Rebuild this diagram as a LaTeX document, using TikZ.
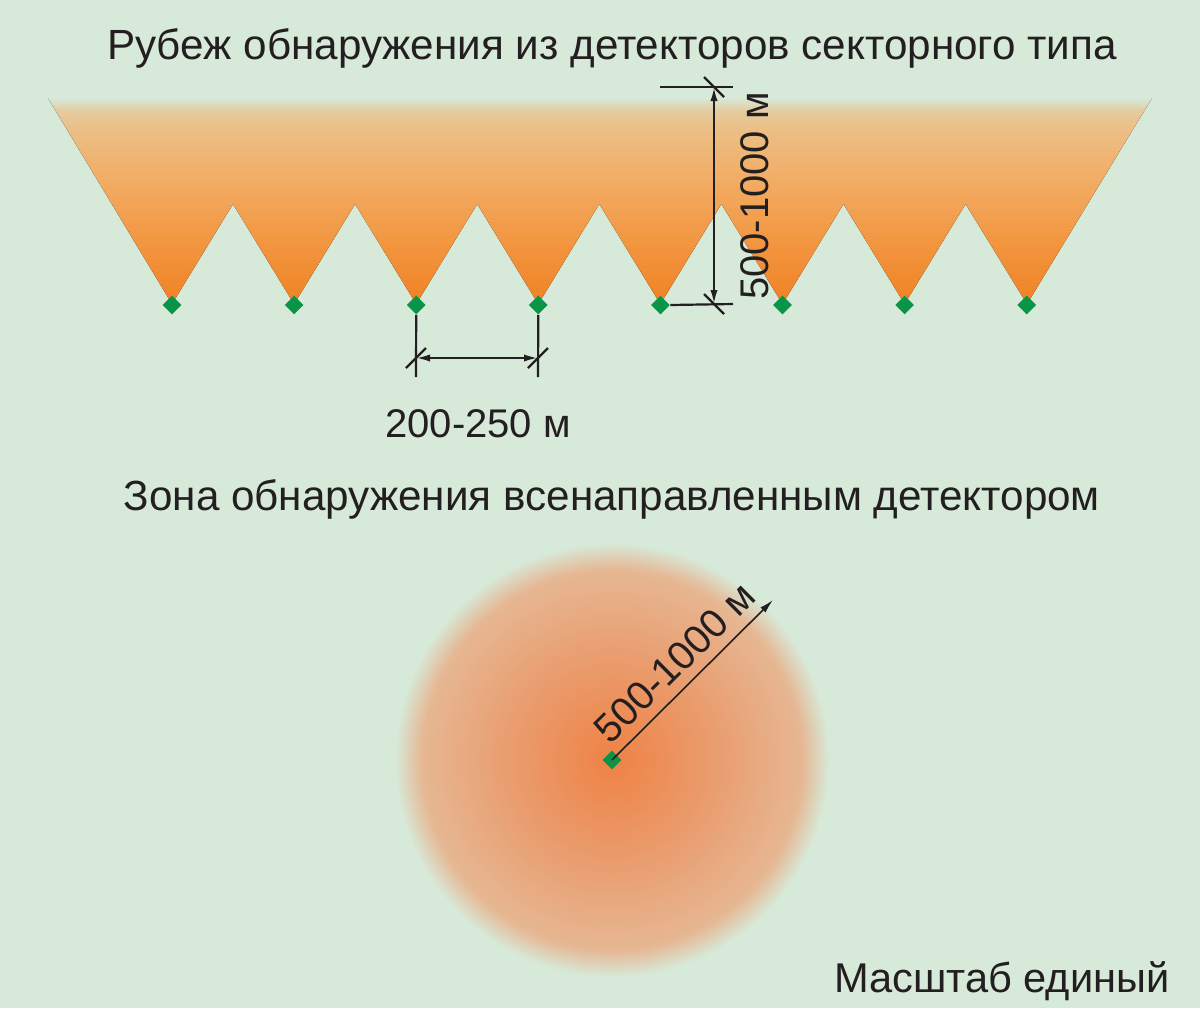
\documentclass[tikz,border=0pt]{standalone}
\usepackage{fontspec}
\setmainfont{Liberation Sans}
\usetikzlibrary{arrows.meta,shapes.geometric}

\definecolor{bg}{RGB}{215,233,216}
\definecolor{ink}{RGB}{35,31,32}
\definecolor{detgreen}{RGB}{10,148,72}
\definecolor{secA}{RGB}{240,130,36}
\definecolor{secB}{RGB}{242,150,64}
\definecolor{secC}{RGB}{242,172,100}
\definecolor{secD}{RGB}{235,192,136}
\definecolor{secE}{RGB}{228,204,160}
\definecolor{zoneA}{RGB}{239,130,69}
\definecolor{zoneB}{RGB}{233,160,115}
\definecolor{zoneC}{RGB}{230,183,147}

% sector fill: orange at the detector, fading into the background at the top
\pgfdeclareverticalshading{sector}{100bp}{color(0bp)=(secA); color(25bp)=(secA);
    color(40bp)=(secB); color(55bp)=(secC); color(68bp)=(secD); color(72bp)=(secE);
    color(75bp)=(bg); color(100bp)=(bg)}
% round zone of the omnidirectional detector (drawn in a square, so no edge shows)
\pgfdeclareradialshading{zone}{\pgfpoint{0bp}{0bp}}{color(0bp)=(zoneA);
    color(12bp)=(zoneB); color(19.8bp)=(zoneC); color(22.6bp)=(bg); color(50bp)=(bg)}

\tikzset{
    det/.style={diamond,fill=detgreen,inner sep=0pt,minimum size=9.5pt},
    dim/.style={draw=ink,line width=1.1pt},
    lbl/.style={text=ink,inner sep=0pt,font=\fontsize{20}{24}\selectfont},
    head/.style={text=ink,inner sep=0pt,font=\fontsize{21.1}{25}\selectfont},
    tip/.style={-{Latex[length=7pt,width=3.6pt]}},
    tips/.style={{Latex[length=7pt,width=3.6pt]}-{Latex[length=7pt,width=3.6pt]}},
}

\begin{document}
\begin{tikzpicture}[x=0.5pt,y=-0.5pt]
    \useasboundingbox (0,0) rectangle (1200,1008);
    \fill[bg] (0,0) rectangle (1200,1008);

    \node[head,anchor=base] (title1) at (612,59) {Рубеж обнаружения из детекторов секторного типа};

    % sectors of the line detectors
    \fill[shading=sector] (48,98)
        \foreach \i in {0,...,6} { -- ({172+122.1*\i},304) -- ({233+122.1*\i},204) }
        -- (1027,304) -- (1152,98) -- cycle;
    \foreach \i in {1,...,8}
        \node[det] (d\i) at ({172+122.1*(\i-1)},305) {};

    % depth of the sector
    \coordinate (vtop) at (660,87);
    \coordinate (vtopend) at (733,87);
    \coordinate (vbotend) at (733,304);
    \coordinate (va) at (714,87);
    \coordinate (vb) at (714,304);
    \draw[dim] (vtop) -- (vtopend);
    \draw[dim] (d5.east) -- (vbotend);
    \draw[dim,tips] (vb) -- (va);
    \draw[dim] ([shift={(-10,-10)}]va) -- ([shift={(10,10)}]va);
    \draw[dim] ([shift={(-10,-10)}]vb) -- ([shift={(10,10)}]vb);
    \node[lbl,rotate=90,anchor=base] (depth) at (768,196) {500-1000 м};

    % spacing of the detectors
    \coordinate (h3) at (416,377);
    \coordinate (h4) at (538,377);
    \coordinate (ha) at (416,358);
    \coordinate (hb) at (538,358);
    \draw[dim] (d3.south) -- (h3);
    \draw[dim] (d4.south) -- (h4);
    \draw[dim,tips] (ha) -- (hb);
    \draw[dim] ([shift={(-10,10)}]ha) -- ([shift={(10,-10)}]ha);
    \draw[dim] ([shift={(-10,10)}]hb) -- ([shift={(10,-10)}]hb);
    \node[lbl,anchor=base] (spacing) at (478,437) {200-250 м};

    \node[head,anchor=base] (title2) at (612,510) {Зона обнаружения всенаправленным детектором};

    % omnidirectional detector
    \fill[shading=zone] (372,520) rectangle (852,1000);
    \node[det] (d9) at (612,760) {};
    \coordinate (rend) at (773,600);
    \draw[ink,line width=0.8pt,tip] (d9.center) -- (rend)
        node[lbl,midway,sloped,above=5pt] (radius) {500-1000 м};

    \node[lbl,font=\fontsize{20.8}{24}\selectfont,anchor=base east] (scale) at (1170,992) {Масштаб единый};
\end{tikzpicture}
\end{document}
